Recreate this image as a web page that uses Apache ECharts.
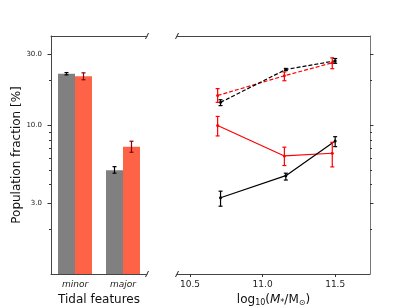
<!DOCTYPE html>
<html><head><meta charset="utf-8">
<script src="https://cdn.jsdelivr.net/npm/echarts@6/dist/echarts.min.js"></script>
<style>html,body{margin:0;padding:0;background:#fff}#c{width:411px;height:308px}</style>
</head><body><div id="c"></div>
<script>
// ---- data ----
const categories = ['minor', 'major'];
const barGray = [22.3, 5.0];
const barGrayLo = [21.9, 4.77];
const barGrayHi = [22.7, 5.28];
const barRed = [21.4, 7.2];
const barRedLo = [20.3, 6.6];
const barRedHi = [22.6, 7.83];

const massBlack = [10.71, 11.16, 11.50];
const massRed = [10.69, 11.15, 11.48];
const blackDashed = [14.3, 23.8, 27.2];
const blackDashedLo = [13.6, 23.4, 26.2];
const blackDashedHi = [14.9, 24.2, 28.2];
const redDashed = [15.9, 21.6, 26.4];
const redDashedLo = [14.3, 20.0, 24.1];
const redDashedHi = [17.7, 22.9, 28.5];
const redSolid = [10.0, 6.23, 6.5];
const redSolidLo = [8.5, 5.37, 5.26];
const redSolidHi = [11.5, 7.14, 7.7];
const blackSolid = [3.26, 4.59, 7.87];
const blackSolidLo = [2.86, 4.29, 7.2];
const blackSolidHi = [3.61, 4.77, 8.4];

const yMajorTicks = [3, 10, 30];
const yMinorTicks = [2, 4, 5, 6, 7, 8, 9, 20];
const xTicks = [10.5, 11.0, 11.5];
const yMin = 1, yMax = 40;
const xMin = 10.41, xMax = 11.74;

// ---- layout ----
const FONT = 'DejaVu Sans';
const LG = {left: 51, right: 147, top: 36, bottom: 274};
const RG = {left: 177, right: 370, top: 36, bottom: 274};
const SPINE = '#444';

const chart = echarts.init(document.getElementById('c'));

function errRender(offsetFrac, color) {
  return function (params, api) {
    const x = api.value(0), lo = api.value(1), hi = api.value(2);
    let off = 0;
    if (offsetFrac !== 0) off = offsetFrac * api.size([1, 0])[0];
    const p1 = api.coord([x, lo]);
    const p2 = api.coord([x, hi]);
    const cx = p1[0] + off;
    const cap = 2;
    const st = {stroke: color, lineWidth: 1.2};
    return {type: 'group', children: [
      {type: 'line', shape: {x1: cx, y1: p1[1], x2: cx, y2: p2[1]}, style: st},
      {type: 'line', shape: {x1: cx - cap, y1: p1[1], x2: cx + cap, y2: p1[1]}, style: st},
      {type: 'line', shape: {x1: cx - cap, y1: p2[1], x2: cx + cap, y2: p2[1]}, style: st}
    ]};
  };
}
function zip3(a, b, c) { return a.map((v, i) => [v, b[i], c[i]]); }
function pairs(a, b) { return a.map((v, i) => [v, b[i]]); }
const lg10 = v => Math.log10(v);
const fmtLog = v => Math.pow(10, v).toFixed(1);

function tickAxis(grid, pos, values, len, labels) {
  return {
    type: 'value', gridIndex: grid, position: pos, min: 0, max: lg10(yMax),
    axisLine: {show: false, onZero: false}, splitLine: {show: false},
    axisTick: {show: true, customValues: values.map(lg10), length: len, lineStyle: {color: '#333', width: 1}},
    axisLabel: labels ? {show: true, customValues: values.map(lg10), formatter: fmtLog, fontSize: 7, color: '#222', fontFamily: FONT, margin: 9} : {show: false}
  };
}

function breakMark(x, y) {
  return {type: 'line', shape: {x1: x - 1.5, y1: y + 3, x2: x + 1.5, y2: y - 3}, style: {stroke: '#222', lineWidth: 1}};
}

const option = {
  backgroundColor: '#fff',
  animation: false,
  textStyle: {fontFamily: FONT},
  grid: [
    {left: LG.left, top: LG.top, width: LG.right - LG.left, height: LG.bottom - LG.top, outerBoundsMode: 'none', containLabel: false},
    {left: RG.left, top: RG.top, width: RG.right - RG.left, height: RG.bottom - RG.top, outerBoundsMode: 'none', containLabel: false}
  ],
  xAxis: [
    {type: 'category', gridIndex: 0, data: categories, position: 'bottom',
     axisLine: {onZero: false, lineStyle: {color: SPINE, width: 1}}, axisTick: {show: false},
     axisLabel: {fontSize: 9, fontStyle: 'italic', color: '#222', fontFamily: FONT, margin: 6},
     name: 'Tidal features', nameLocation: 'middle', nameGap: 14,
     nameTextStyle: {fontSize: 12, color: '#111', fontFamily: FONT}},
    {type: 'value', gridIndex: 0, position: 'top', axisLine: {show: true, onZero: false, lineStyle: {color: SPINE, width: 1}},
     axisTick: {show: false}, axisLabel: {show: false}, splitLine: {show: false}},
    {type: 'value', gridIndex: 1, position: 'bottom', min: xMin, max: xMax,
     axisLine: {show: true, onZero: false, lineStyle: {color: SPINE, width: 1}},
     axisTick: {show: true, customValues: xTicks, length: 3, lineStyle: {color: '#333'}},
     axisLabel: {customValues: xTicks, formatter: v => v.toFixed(1), fontSize: 9, color: '#222', fontFamily: FONT, margin: 6},
     splitLine: {show: false},
     name: '{a|log}{s|10}{a|(}{i|M}{t|*}{a|/M}{s|⊙}{a|)}', nameLocation: 'middle', nameGap: 14,
     nameTextStyle: {fontSize: 12, color: '#111', fontFamily: FONT, rich: {
       a: {fontSize: 12, color: '#111', fontFamily: FONT},
       i: {fontSize: 12, color: '#111', fontFamily: FONT, fontStyle: 'italic'},
       s: {fontSize: 8, color: '#111', fontFamily: FONT, padding: [7, 0, 0, 0]},
       t: {fontSize: 8, color: '#111', fontFamily: FONT, padding: [6, 0, 0, 0]}
     }}},
    {type: 'value', gridIndex: 1, position: 'top', axisLine: {show: true, onZero: false, lineStyle: {color: SPINE, width: 1}},
     axisTick: {show: false}, axisLabel: {show: false}, splitLine: {show: false}}
  ],
  yAxis: [
    {type: 'log', gridIndex: 0, position: 'left', min: yMin, max: yMax,
     axisLine: {show: true, onZero: false, lineStyle: {color: SPINE, width: 1}}, axisTick: {show: false},
     axisLabel: {show: false}, splitLine: {show: false},
     name: 'Population fraction [%]', nameLocation: 'middle', nameGap: 28,
     nameTextStyle: {fontSize: 12, color: '#111', fontFamily: FONT}},
    tickAxis(0, 'left', yMajorTicks, 3.5, true),
    tickAxis(0, 'left', yMinorTicks, 2, false),
    {type: 'log', gridIndex: 1, position: 'right', min: yMin, max: yMax,
     axisLine: {show: true, onZero: false, lineStyle: {color: '#777', width: 1}}, axisTick: {show: false},
     axisLabel: {show: false}, splitLine: {show: false}},
    tickAxis(1, 'right', yMajorTicks, 3.5, false),
    tickAxis(1, 'right', yMinorTicks, 2, false)
  ],
  series: [
    {type: 'bar', xAxisIndex: 0, yAxisIndex: 0, data: barGray, barWidth: '35.4%', barGap: '0%',
     itemStyle: {color: '#808080'}},
    {type: 'bar', xAxisIndex: 0, yAxisIndex: 0, data: barRed, barWidth: '35.4%', barGap: '0%',
     itemStyle: {color: '#ff6347'}},
    {type: 'custom', xAxisIndex: 0, yAxisIndex: 0, renderItem: errRender(-0.177, '#000'),
     encode: {x: 0, y: [1, 2]}, data: zip3([0, 1], barGrayLo, barGrayHi), z: 5},
    {type: 'custom', xAxisIndex: 0, yAxisIndex: 0, renderItem: errRender(0.177, '#8b0000'),
     encode: {x: 0, y: [1, 2]}, data: zip3([0, 1], barRedLo, barRedHi), z: 5},

    {type: 'line', xAxisIndex: 2, yAxisIndex: 3, data: pairs(massRed, redDashed),
     lineStyle: {color: '#ff0000', width: 1.2, type: [4, 2]}, itemStyle: {color: '#ff0000'},
     symbol: 'circle', symbolSize: 3},
    {type: 'line', xAxisIndex: 2, yAxisIndex: 3, data: pairs(massBlack, blackDashed),
     lineStyle: {color: '#000', width: 1.2, type: [4, 2]}, itemStyle: {color: '#000'},
     symbol: 'circle', symbolSize: 3},
    {type: 'line', xAxisIndex: 2, yAxisIndex: 3, data: pairs(massRed, redSolid),
     lineStyle: {color: '#ff0000', width: 1.2}, itemStyle: {color: '#ff0000'},
     symbol: 'circle', symbolSize: 3},
    {type: 'line', xAxisIndex: 2, yAxisIndex: 3, data: pairs(massBlack, blackSolid),
     lineStyle: {color: '#000', width: 1.2}, itemStyle: {color: '#000'},
     symbol: 'circle', symbolSize: 3},
    {type: 'custom', xAxisIndex: 2, yAxisIndex: 3, renderItem: errRender(0, '#ff0000'),
     encode: {x: 0, y: [1, 2]}, data: zip3(massRed, redDashedLo, redDashedHi), z: 5},
    {type: 'custom', xAxisIndex: 2, yAxisIndex: 3, renderItem: errRender(0, '#000'),
     encode: {x: 0, y: [1, 2]}, data: zip3(massBlack, blackDashedLo, blackDashedHi), z: 5},
    {type: 'custom', xAxisIndex: 2, yAxisIndex: 3, renderItem: errRender(0, '#ff0000'),
     encode: {x: 0, y: [1, 2]}, data: zip3(massRed, redSolidLo, redSolidHi), z: 5},
    {type: 'custom', xAxisIndex: 2, yAxisIndex: 3, renderItem: errRender(0, '#000'),
     encode: {x: 0, y: [1, 2]}, data: zip3(massBlack, blackSolidLo, blackSolidHi), z: 5}
  ],
  graphic: [
    breakMark(LG.right, LG.top), breakMark(LG.right, LG.bottom),
    breakMark(RG.left, RG.top), breakMark(RG.left, RG.bottom)
  ]
};
chart.setOption(option);
</script>
</body></html>
